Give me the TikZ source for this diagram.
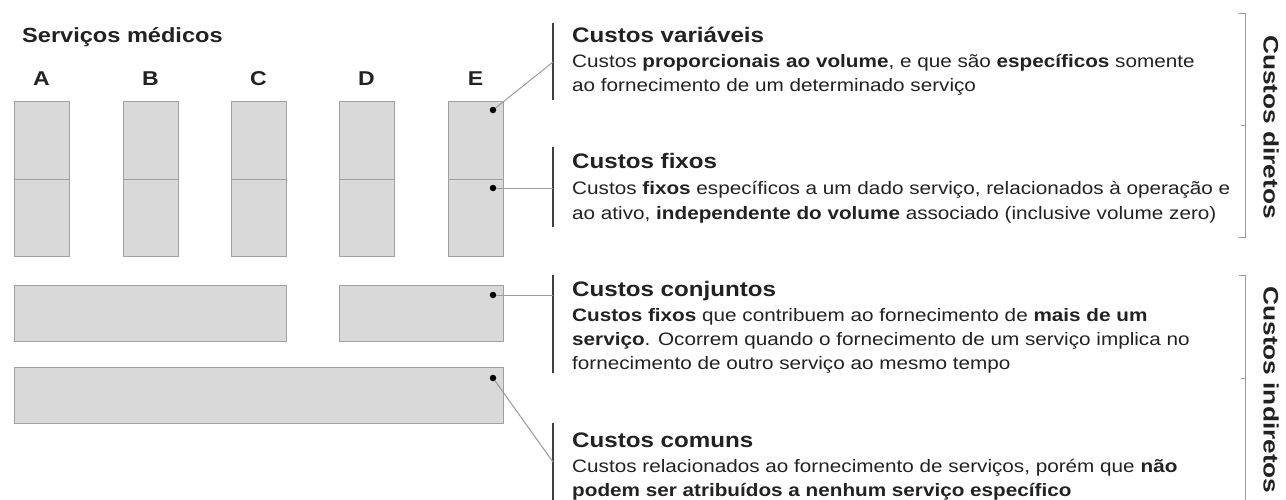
\documentclass[tikz,border=0pt]{standalone}
\usepackage{fontspec}
\setmainfont{Liberation Sans}[FakeStretch=1.15]
\newfontfamily\sidefont{Liberation Sans}[FakeStretch=1.25]
\definecolor{boxgray}{HTML}{D9D9D9}
\definecolor{boxline}{HTML}{A0A0A0}
\definecolor{barline}{HTML}{404040}
\definecolor{linkgray}{HTML}{9A9A9A}
\definecolor{txt}{HTML}{222222}
\tikzset{
  box/.style={draw=boxline, fill=boxgray, line width=1.4pt, inner sep=0pt, anchor=north west},
  dot/.style={circle, fill=black, inner sep=0pt, minimum size=6.5pt},
  letter/.style={font=\fontsize{20}{24}\selectfont\bfseries, text=txt},
  ttl/.style={font=\fontsize{21}{24}\selectfont\bfseries, text=txt, anchor=base west, inner sep=0pt},
  desc/.style={font=\fontsize{18}{24}\selectfont, text=txt, anchor=base west, inner sep=0pt},
  vbar/.style={draw=barline, line width=2.2pt},
  link/.style={draw=linkgray, line width=1pt},
  brace/.style={draw=linkgray, line width=0.8pt},
  side/.style={font=\sidefont\fontsize{21}{24}\selectfont\bfseries, text=txt, rotate=-90}
}
\begin{document}
\begin{tikzpicture}[x=1pt,y=-1pt]
\useasboundingbox (0,0) rectangle (1286,499);
\fill[white] (0,0) rectangle (1286,499);
% servicos
\node[font=\fontsize{20.5}{24}\selectfont\bfseries, text=txt, anchor=base west, inner sep=0pt] (title) at (22,42) {Serviços médicos};
\foreach \n/\x in {A/14,B/123,C/231,D/339,E/448} {
  \node[box, minimum width=55pt, minimum height=78pt] (\n top) at (\x,101) {};
  \node[box, minimum width=55pt, minimum height=77pt] (\n bot) at (\x,179) {};
  \node[letter] (\n) at ({\x+27.5},79) {\n};
}
\node[box, minimum width=272pt, minimum height=56pt] (joint1) at (14,285) {};
\node[box, minimum width=164pt, minimum height=56pt] (joint2) at (339,285) {};
\node[box, minimum width=489pt, minimum height=56pt] (common) at (14,367) {};
% dots
\node[dot] (dv) at (493,110) {};
\node[dot] (df) at (493,188) {};
\node[dot] (dj) at (493,295) {};
\node[dot] (dc) at (493,378) {};
% bars on the text
\draw[vbar] (553,23) -- (553,100);
\draw[vbar] (553,147) -- (553,227);
\draw[vbar] (553,275) -- (553,373);
\draw[vbar] (553,423) -- (553,505);
\coordinate (cv) at (553,62);
\coordinate (cf) at (553,188);
\coordinate (cj) at (553,295);
\coordinate (cc) at (553,462);
\draw[link] (dv) -- (cv);
\draw[link] (df) -- (cf);
\draw[link] (dj) -- (cj);
\draw[link] (dc) -- (cc);
% textos
\node[ttl] (tv) at (572,42) {Custos variáveis};
\node[desc] (xv1) at (572,67) {Custos \textbf{proporcionais ao volume}, e que são \textbf{específicos} somente};
\node[desc] (xv2) at (572,91) {ao fornecimento de um determinado serviço};
\node[ttl] (tf) at (572,168) {Custos fixos};
\node[desc] (xf1) at (572,194) {Custos \textbf{fixos} específicos a um dado serviço, relacionados à operação e};
\node[desc] (xf2) at (572,219) {ao ativo, \textbf{independente do volume} associado (inclusive volume zero)};
\node[ttl] (tj) at (572,296) {Custos conjuntos};
\node[desc] (xj1) at (572,321) {\textbf{Custos fixos} que contribuem ao fornecimento de \textbf{mais de um}};
\node[desc] (xj2) at (572,345) {\textbf{serviço}. Ocorrem quando o fornecimento de um serviço implica no};
\node[desc] (xj3) at (572,369) {fornecimento de outro serviço ao mesmo tempo};
\node[ttl] (tc) at (572,447) {Custos comuns};
\node[desc] (xc1) at (572,472) {Custos relacionados ao fornecimento de serviços, porém que \textbf{não}};
\node[desc] (xc2) at (572,496) {\textbf{podem ser atribuídos a nenhum serviço específico}};
% chaves
\draw[brace] (1239,13) -- (1245,13) -- (1245,237) -- (1239,237);
\draw[brace] (1245,125) -- (1241,125);
\draw[brace] (1239,275) -- (1245,275) -- (1245,505);
\draw[brace] (1245,378) -- (1241,378);
\node[side] (sd) at (1271,127) {Custos diretos};
\node[side] (si) at (1271,390) {Custos indiretos};
\end{tikzpicture}
\end{document}
